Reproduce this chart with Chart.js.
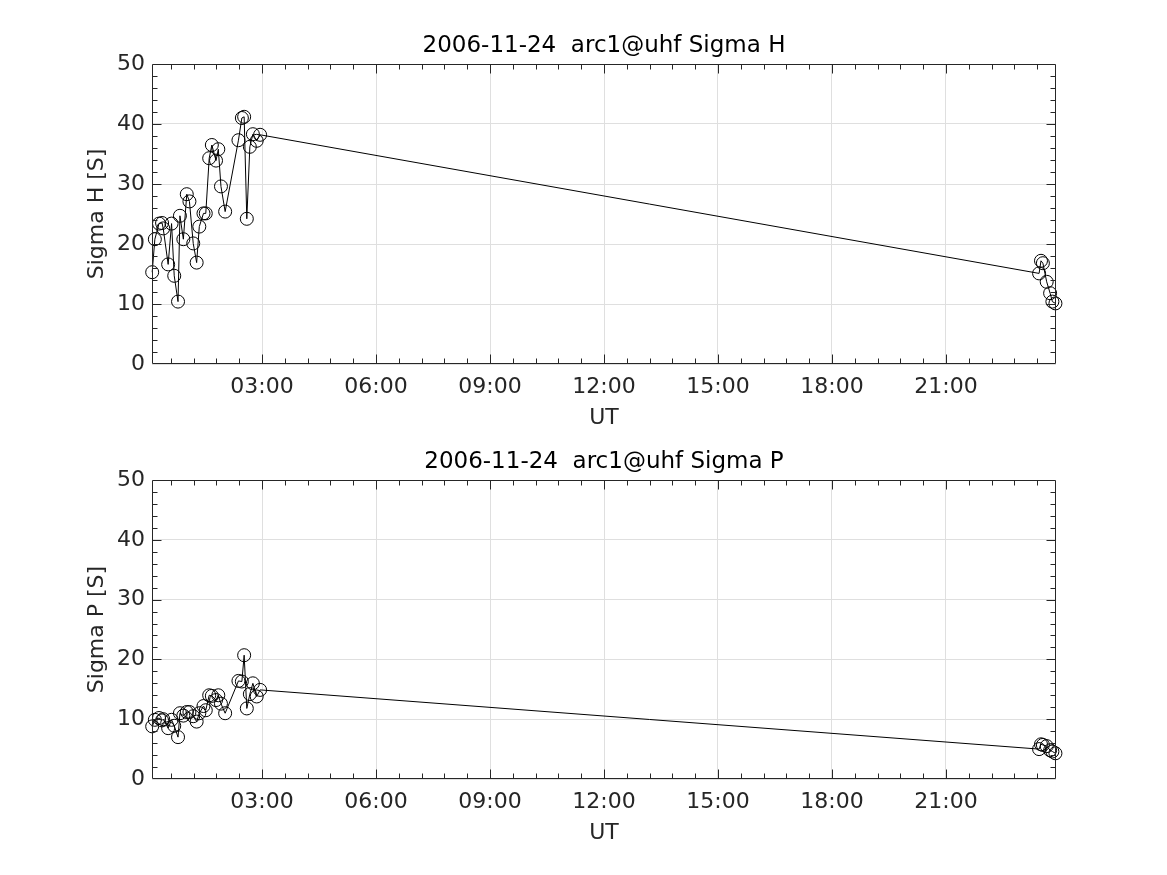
<!DOCTYPE html>
<html>
<head>
<meta charset="utf-8">
<script src="https://cdn.jsdelivr.net/npm/chart.js@4"></script>
<style>
body { margin: 0; background: #fff; }
#wrap { position: relative; width: 1167px; height: 875px; }
canvas { position: absolute; left: 0; }
</style>
</head>
<body>
<div id="wrap">
  <canvas id="chartH" width="1167" height="437" style="top:0"></canvas>
  <canvas id="chartP" width="1167" height="459" style="top:416px"></canvas>
</div>
<script>
// time of day in hours (UT)
const times = [0.11, 0.18, 0.29, 0.37, 0.40, 0.53, 0.62, 0.69, 0.79, 0.84,
  0.93, 1.02, 1.09, 1.19, 1.28, 1.35, 1.46, 1.52, 1.61, 1.68,
  1.79, 1.85, 1.92, 2.03, 2.38, 2.47, 2.53, 2.60, 2.68, 2.76,
  2.86, 2.95, 23.45, 23.50, 23.55, 23.65, 23.74, 23.80, 23.88];
const sigmaH = [15.3, 20.8, 23.4, 23.5, 22.6, 16.6, 23.4, 14.7, 10.4, 24.7,
  20.8, 28.3, 27.1, 20.1, 16.9, 22.9, 25.1, 25.1, 34.3, 36.5,
  33.9, 35.8, 29.6, 25.4, 37.3, 41.0, 41.2, 24.2, 36.2, 38.3,
  37.2, 38.2, 15.1, 17.2, 16.8, 13.7, 11.8, 10.4, 10.1];
const sigmaP = [8.8, 9.9, 10.2, 9.8, 10.0, 8.5, 9.9, 8.9, 7.0, 11.0,
  10.6, 11.2, 11.2, 10.5, 9.6, 11.0, 12.2, 11.5, 14.0, 13.9,
  13.2, 14.0, 12.6, 11.0, 16.4, 16.3, 20.7, 11.8, 14.2, 16.0,
  13.8, 14.9, 5.0, 5.8, 5.7, 5.5, 4.8, 4.6, 4.3];

const xTicks = [3, 6, 9, 12, 15, 18, 21];
const xTickLabels = ['03:00', '06:00', '09:00', '12:00', '15:00', '18:00', '21:00'];
const yTicks = [0, 10, 20, 30, 40, 50];
const yTickLabels = ['0', '10', '20', '30', '40', '50'];
const xMin = 0.105, xMax = 23.895;

Chart.defaults.font.family = 'DejaVu Sans';
Chart.defaults.font.size = 22;
Chart.defaults.color = '#262626';

const axisColor = '#262626';

// box, inward ticks and texts like a matlab axes
const matlabAxes = {
  id: 'matlabAxes',
  afterDatasetsDraw(chart, args, opts) {
    const { ctx, chartArea: a, scales: { x, y } } = chart;
    const L = Math.round(a.left) + 0.5, R = Math.round(a.right) - 0.5;
    const T = Math.round(a.top) + 0.5, B = Math.round(a.bottom) - 0.5;
    ctx.save();
    ctx.strokeStyle = axisColor;
    ctx.lineWidth = 1;
    ctx.beginPath();
    ctx.rect(L, T, R - L, B - T);
    // x ticks, minor every 36 min
    for (let k = 1; k * 0.6 < xMax; k++) {
      const v = k * 0.6;
      if (v < xMin) continue;
      const len = (k % 5 === 0) ? 9 : 5;
      const px = Math.round(x.getPixelForValue(v)) + 0.5;
      ctx.moveTo(px, B); ctx.lineTo(px, B - len);
      ctx.moveTo(px, T); ctx.lineTo(px, T + len);
    }
    // y ticks
    for (let v = 2; v < 50; v += 2) {
      const len = (v % 10 === 0) ? 9 : 5;
      const py = Math.round(y.getPixelForValue(v)) + 0.5;
      ctx.moveTo(L, py); ctx.lineTo(L + len, py);
      ctx.moveTo(R, py); ctx.lineTo(R - len, py);
    }
    ctx.stroke();

    const cx = (a.left + a.right) / 2;
    ctx.textAlign = 'center';
    ctx.textBaseline = 'middle';
    ctx.font = '23px "DejaVu Sans"';
    ctx.fillStyle = '#000';
    ctx.fillText(opts.title, cx, a.top - 18);
    ctx.font = '22px "DejaVu Sans"';
    ctx.fillStyle = axisColor;
    ctx.fillText('UT', cx, a.bottom + 54);
    ctx.translate(97, (a.top + a.bottom) / 2);
    ctx.rotate(-Math.PI / 2);
    ctx.fillText(opts.yLabel, 0, 0);
    ctx.restore();
  }
};

function makeChart(id, values, title, yLabel, xAxisHeight) {
  return new Chart(document.getElementById(id), {
    type: 'line',
    data: {
      datasets: [{
        data: times.map((t, i) => ({ x: t, y: values[i] })),
        borderColor: '#000',
        borderWidth: 1,
        pointStyle: 'circle',
        pointRadius: 6.5,
        pointBorderWidth: 1,
        pointBorderColor: '#000',
        pointBackgroundColor: 'rgba(0,0,0,0)',
        tension: 0,
        clip: false
      }]
    },
    options: {
      responsive: false,
      animation: false,
      devicePixelRatio: 1,
      layout: { padding: { left: 0, right: 111, top: 64, bottom: 0 } },
      plugins: {
        legend: { display: false },
        tooltip: { enabled: false },
        matlabAxes: { title: title, yLabel: yLabel }
      },
      scales: {
        x: {
          type: 'linear',
          min: xMin,
          max: xMax,
          afterBuildTicks: s => { s.ticks = xTicks.map(v => ({ value: v })); },
          afterFit: s => { s.height = xAxisHeight; },
          ticks: {
            padding: 10,
            maxRotation: 0,
            autoSkip: false,
            callback: (v) => xTickLabels[xTicks.indexOf(v)]
          },
          grid: { color: '#dfdfdf', drawTicks: false },
          border: { display: false }
        },
        y: {
          min: 0,
          max: 50,
          afterBuildTicks: s => { s.ticks = yTicks.map(v => ({ value: v })); },
          afterFit: s => { s.width = 152; },
          ticks: {
            padding: 7,
            callback: (v) => yTickLabels[yTicks.indexOf(v)]
          },
          grid: { color: '#dfdfdf', drawTicks: false },
          border: { display: false }
        }
      }
    },
    plugins: [matlabAxes]
  });
}

makeChart('chartH', sigmaH, '2006-11-24  arc1@uhf Sigma H', 'Sigma H [S]', 73);
makeChart('chartP', sigmaP, '2006-11-24  arc1@uhf Sigma P', 'Sigma P [S]', 96);
</script>
</body>
</html>
